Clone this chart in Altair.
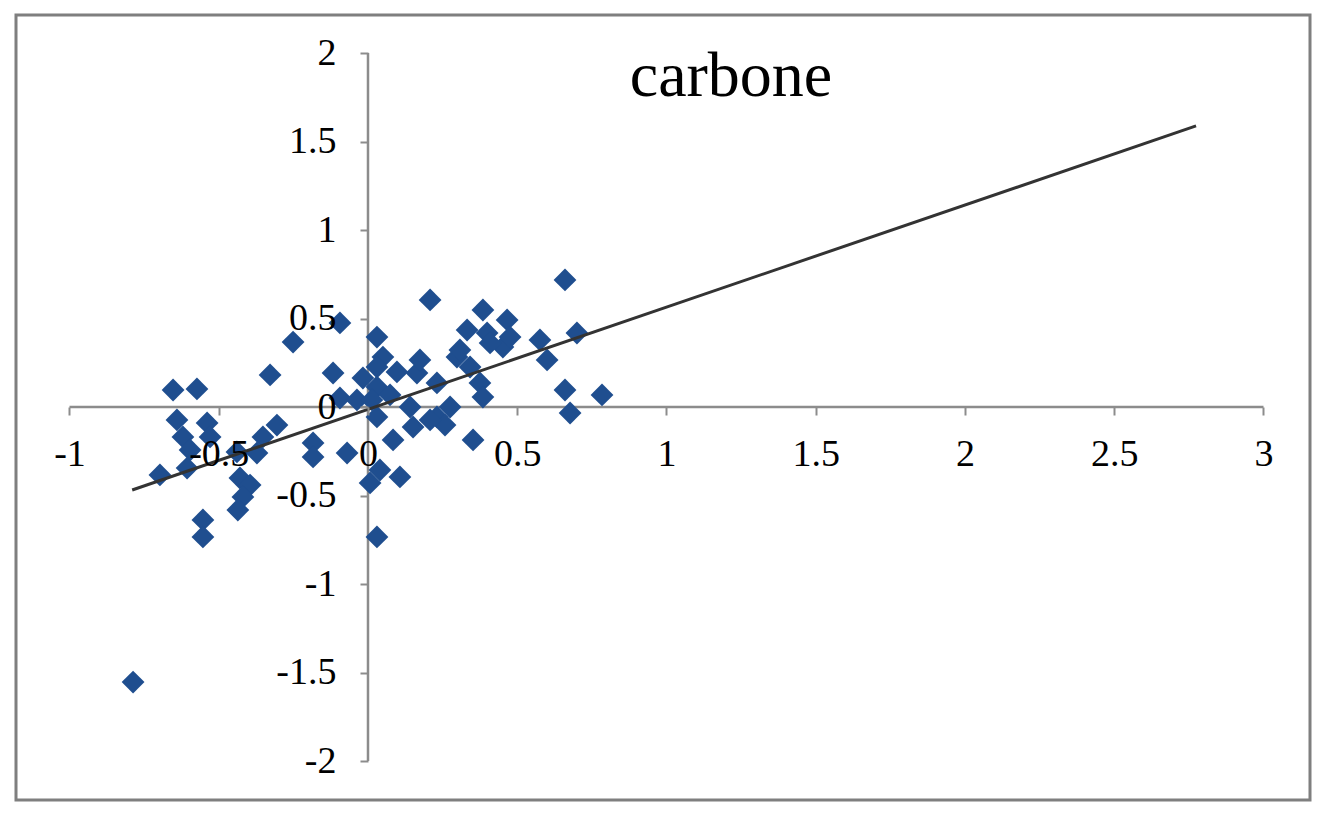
import altair as alt
import pandas as pd

# ---- data ----
x_vals = [-0.787, -0.653, -0.573, -0.640, -0.539, -0.620, -0.529, -0.596, -0.697, -0.606,
          -0.439, -0.352, -0.305, -0.372, -0.429, -0.395, -0.419, -0.436, -0.553, -0.553,
          -0.328, -0.251, -0.094, -0.117, -0.184, -0.184, -0.070, -0.094, -0.037,
          0.030, 0.050, 0.030, 0.030, 0.013, 0.074, 0.030, 0.084, 0.040, 0.107,
          0.007, 0.030, 0.141, 0.151, 0.164, 0.174, 0.208, 0.231, 0.231, 0.258,
          0.275, 0.298, 0.332, 0.342, 0.385, 0.399, 0.375, 0.385, 0.352, 0.452,
          0.466, 0.476, 0.576, 0.600, 0.660, 0.700, 0.660, 0.677, 0.784,
          0.308, 0.409, 0.208, -0.017, 0.097]
y_vals = [-1.554, 0.096, 0.102, -0.073, -0.090, -0.169, -0.169, -0.243, -0.384, -0.345,
          -0.254, -0.169, -0.102, -0.260, -0.401, -0.441, -0.508, -0.582, -0.638, -0.734,
          0.181, 0.367, 0.475, 0.192, -0.203, -0.282, -0.260, 0.051, 0.040,
          0.395, 0.282, 0.226, 0.113, 0.040, 0.068, -0.056, -0.186, -0.356, -0.395,
          -0.429, -0.734, 0.000, -0.113, 0.192, 0.266, 0.605, 0.136, -0.056, -0.102,
          0.000, 0.282, 0.435, 0.226, 0.548, 0.418, 0.136, 0.056, -0.186, 0.339,
          0.492, 0.395, 0.379, 0.266, 0.718, 0.418, 0.096, -0.034, 0.068,
          0.322, 0.362, -0.073, 0.164, 0.198]
trend_x = [-0.79, 2.774]
trend_y = [-0.469, 1.588]
x_ticks = [-1, -0.5, 0, 0.5, 1, 1.5, 2, 2.5, 3]
y_ticks = [-2, -1.5, -1, -0.5, 0, 0.5, 1, 1.5, 2]
axis_x_span = [-1, 3]
axis_y_span = [-2, 2]
title_text = "carbone"

# ---- layout ----
W, H = 1294, 785
X_DOM = [-1.1792, 3.1558]
Y_DOM = [-2.2203, 2.2147]
x0 = W * (0 - X_DOM[0]) / (X_DOM[1] - X_DOM[0])
y0 = H * (Y_DOM[1] - 0) / (Y_DOM[1] - Y_DOM[0])

FONT = "Liberation Serif"
AXIS_GRAY = "#8c8c8c"

xs = alt.Scale(domain=X_DOM, nice=False, zero=False)
ys = alt.Scale(domain=Y_DOM, nice=False, zero=False)

x_axis = alt.Axis(values=x_ticks, domain=False, grid=False, orient="bottom",
                  offset=-(H - y0), tickSize=8, tickColor=AXIS_GRAY, tickWidth=2,
                  labelFont=FONT, labelFontSize=38, labelColor="black",
                  labelPadding=39, labelBaseline="middle", labelFlush=False,
                  labelOverlap=False, labelExpr="datum.value + ''", title=None, zindex=1)
y_axis = alt.Axis(values=y_ticks, domain=False, grid=False, orient="left",
                  offset=-x0, tickSize=8, tickColor=AXIS_GRAY, tickWidth=2,
                  labelFont=FONT, labelFontSize=38, labelColor="black",
                  labelPadding=24, labelBaseline="middle", labelAlign="right",
                  labelFlush=False, labelOverlap=False,
                  labelExpr="datum.value + ''", title=None, zindex=1)

pts = pd.DataFrame({"x": x_vals, "y": y_vals})
trend = pd.DataFrame({"x": trend_x, "y": trend_y})
axes_df = pd.DataFrame({
    "x1": [axis_x_span[0], 0], "x2": [axis_x_span[1], 0],
    "y1": [0, axis_y_span[0]], "y2": [0, axis_y_span[1]],
})

axis_lines = alt.Chart(axes_df).mark_rule(color=AXIS_GRAY, strokeWidth=2.5).encode(
    x=alt.X("x1:Q", scale=xs, axis=x_axis),
    x2="x2:Q",
    y=alt.Y("y1:Q", scale=ys, axis=y_axis),
    y2="y2:Q",
)

points = alt.Chart(pts).mark_point(shape="diamond", filled=True, size=520,
                                   color="#1F4E8F", opacity=1, strokeWidth=0).encode(
    x=alt.X("x:Q", scale=xs),
    y=alt.Y("y:Q", scale=ys),
)

line = alt.Chart(trend).mark_line(color="#333333", strokeWidth=3).encode(
    x=alt.X("x:Q", scale=xs),
    y=alt.Y("y:Q", scale=ys),
)

chart = alt.layer(axis_lines, points, line).properties(
    width=W, height=H,
    title=alt.TitleParams(text=title_text, font=FONT, fontSize=64, fontWeight="normal",
                          anchor="middle", frame="group", dx=68, offset=-145,
                          baseline="alphabetic", color="black"),
    autosize=alt.AutoSizeParams(type="none"),
    padding={"left": 8, "top": 7, "right": 5, "bottom": 5},
    background="white",
).configure_view(stroke="#7f7f7f", strokeWidth=3)

chart.save("out.html", embed_options={"renderer": "svg", "actions": False})
